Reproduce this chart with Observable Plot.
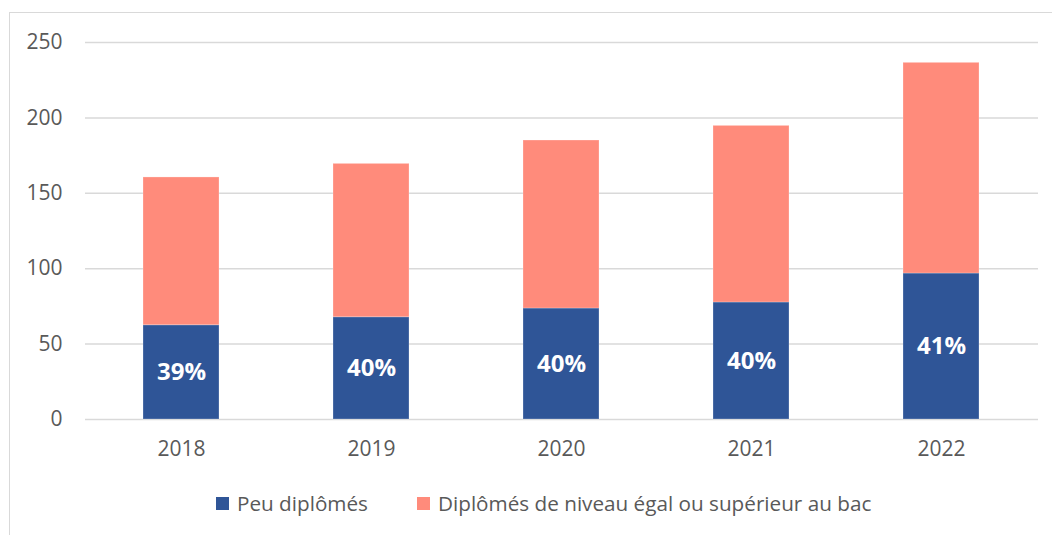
<!DOCTYPE html>
<html>
<head>
<meta charset="utf-8">
<script src="https://cdn.jsdelivr.net/npm/d3@7"></script>
<script src="https://cdn.jsdelivr.net/npm/@observablehq/plot@0.6"></script>
<style>
  html, body { margin: 0; padding: 0; background: #fff; }
  body { width: 1052px; height: 535px; overflow: hidden; position: relative; font-family: "Open Sans", sans-serif; }
  #frame { position: absolute; left: 9px; top: 12px; width: 1100px; height: 600px; border: 1.5px solid #D9D9D9; box-sizing: border-box; pointer-events: none; }
  #chart { position: absolute; left: 0; top: 0; }
  #legend { position: absolute; left: 0; top: 475px; width: 1052px; height: 60px; }
  .item { position: absolute; top: 0; height: 56px; display: flex; align-items: center; font-size: 20.7px; color: #595959; }
  .sw { width: 13px; height: 13px; margin-right: 8px; }
</style>
</head>
<body>
<div id="chart"></div>
<div id="legend"></div>
<div id="frame"></div>
<script>
const years = ["2018", "2019", "2020", "2021", "2022"];
const peuDiplomes = [62.5, 67.8, 73.6, 77.6, 96.8];
const diplomesBac = [98.0, 101.7, 111.4, 117.1, 139.7];
const shareLabels = ["39%", "40%", "40%", "40%", "41%"];
const seriesNames = ["Peu diplômés", "Diplômés de niveau égal ou supérieur au bac"];
const seriesColors = ["#2F5597", "#FF8B7B"];
const yTicks = [0, 50, 100, 150, 200, 250];

const rows = [];
years.forEach((y, i) => {
  rows.push({year: y, series: seriesNames[0], value: peuDiplomes[i]});
  rows.push({year: y, series: seriesNames[1], value: diplomesBac[i]});
});
const labelRows = years.map((y, i) => ({year: y, mid: peuDiplomes[i] / 2, label: shareLabels[i]}));

const plot = Plot.plot({
  width: 1052,
  height: 475,
  marginLeft: 85,
  marginRight: 14,
  marginTop: 42,
  marginBottom: 56,
  style: {fontFamily: "'Open Sans', sans-serif", fontSize: "21px", color: "#595959", background: "transparent", overflow: "visible"},
  x: {domain: years, paddingInner: 0.6, paddingOuter: 0.3, label: null, tickSize: 0, tickPadding: 22},
  y: {domain: [0, 250], ticks: yTicks, label: null, tickSize: 0, tickPadding: 23},
  color: {domain: seriesNames, range: seriesColors},
  marks: [
    Plot.ruleY(yTicks, {stroke: "#D9D9D9", strokeWidth: 1.5}),
    Plot.barY(rows, Plot.stackY({x: "year", y: "value", fill: "series", order: seriesNames, stroke: "white", strokeOpacity: 0.25, strokeWidth: 1})),
    Plot.text(labelRows, {x: "year", y: "mid", text: "label", fill: "white", fontWeight: "bold", fontSize: 24}),
    Plot.axisX({tickSize: 0, tickPadding: 22, fill: "#595959"}),
    Plot.axisY({ticks: yTicks, tickSize: 0, tickPadding: 23, fill: "#595959"})
  ]
});
document.getElementById("chart").appendChild(plot);

const legend = document.getElementById("legend");
const positions = [216, 417];
seriesNames.forEach((name, i) => {
  const d = document.createElement("div");
  d.className = "item";
  d.style.left = positions[i] + "px";
  const s = document.createElement("span");
  s.className = "sw";
  s.style.background = seriesColors[i];
  const t = document.createElement("span");
  t.textContent = name;
  d.appendChild(s);
  d.appendChild(t);
  legend.appendChild(d);
});
</script>
</body>
</html>
